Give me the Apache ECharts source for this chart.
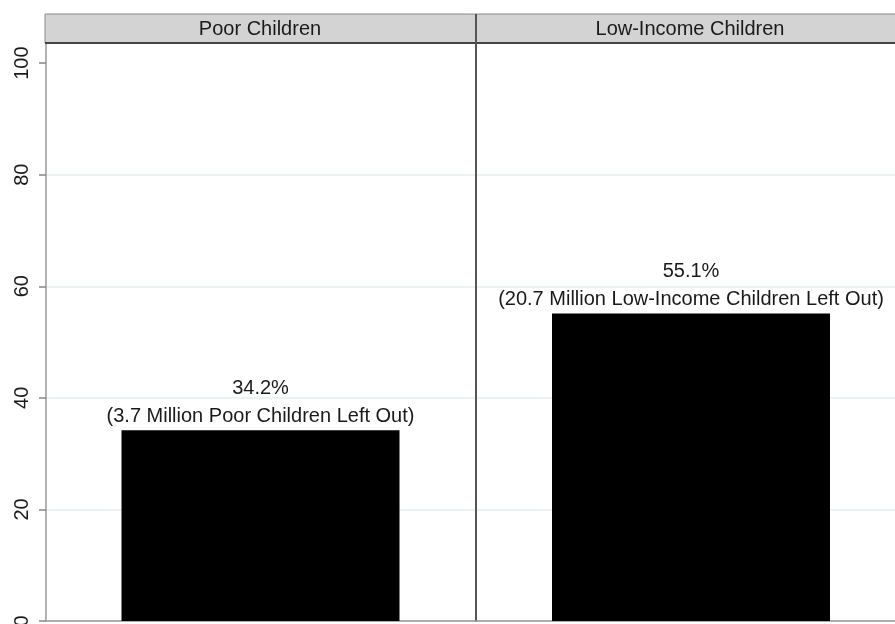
<!DOCTYPE html>
<html>
<head>
<meta charset="utf-8">
<script src="https://cdn.jsdelivr.net/npm/echarts@6/dist/echarts.min.js"></script>
<style>html,body{margin:0;padding:0;background:#fff}#c{width:895px;height:624px}</style>
</head>
<body>
<div id="c"></div>
<script>
var panels = ['Poor Children', 'Low-Income Children'];
var values = [34.2, 55.1];
var notes = ['(3.7 Million Poor Children Left Out)', '(20.7 Million Low-Income Children Left Out)'];
var yTicks = [0, 20, 40, 60, 80, 100];

var chart = echarts.init(document.getElementById('c'));
var FONT = 'Liberation Sans, Arial, sans-serif';
var GL = '#ebf3f5';
var grids = [
  {left: 46, width: 429, top: 43, bottom: 3, containLabel: false, outerBoundsMode: 'none'},
  {left: 476, width: 430, top: 43, bottom: 3, containLabel: false, outerBoundsMode: 'none'}
];
var xAxes = [], yAxes = [], series = [];
panels.forEach(function (p, i) {
  xAxes.push({
    type: 'category', gridIndex: i, data: [p],
    axisLine: {show: true, lineStyle: {color: '#999', width: 1.5}},
    axisTick: {show: false}, axisLabel: {show: false}
  });
  yAxes.push({
    type: 'value', gridIndex: i, min: 0, max: 103.6, interval: 20,
    axisLine: {show: true, lineStyle: {color: i === 0 ? '#999' : '#555', width: i === 0 ? 1.5 : 2}},
    axisTick: {show: i === 0, length: 7, lineStyle: {color: '#888', width: 1.5}},
    axisLabel: {show: i === 0, rotate: 90, margin: 14, fontSize: 20, color: '#1a1a1a', fontFamily: FONT,
      showMaxLabel: false,
      formatter: function (v) { return yTicks.indexOf(v) >= 0 ? String(v) : ''; }},
    splitLine: {show: true, lineStyle: {color: [GL, GL, GL, GL, GL, 'rgba(0,0,0,0)', GL], width: 2}}
  });
  series.push({
    type: 'bar', xAxisIndex: i, yAxisIndex: i, data: [values[i]],
    barWidth: 278, itemStyle: {color: '#000'}, z: 3,
    label: {
      show: true, position: 'top', distance: 0, color: '#1a1a1a', fontFamily: FONT, fontSize: 20,
      lineHeight: 28, align: 'center',
      formatter: (function (k) { return function () { return values[k].toFixed(1) + '%\n' + notes[k]; }; })(i)
    }
  });
});

chart.setOption({
  animation: false,
  backgroundColor: '#fff',
  grid: grids,
  xAxis: xAxes,
  yAxis: yAxes,
  series: series,
  graphic: [
    {type: 'rect', z: 100, shape: {x: 45, y: 14, width: 870, height: 29},
     style: {fill: '#d3d3d3', stroke: '#8a8a8a', lineWidth: 1}},
    {type: 'line', z: 101, shape: {x1: 45, y1: 43, x2: 895, y2: 43},
     style: {stroke: '#444', lineWidth: 2}},
    {type: 'line', z: 101, shape: {x1: 476, y1: 14, x2: 476, y2: 44},
     style: {stroke: '#555', lineWidth: 2}},
    {type: 'text', z: 102, style: {text: panels[0], x: 260, y: 29, align: 'center', verticalAlign: 'middle',
      font: '20px ' + FONT, fill: '#1a1a1a'}},
    {type: 'text', z: 102, style: {text: panels[1], x: 690, y: 29, align: 'center', verticalAlign: 'middle',
      font: '20px ' + FONT, fill: '#1a1a1a'}}
  ]
});
</script>
</body>
</html>
